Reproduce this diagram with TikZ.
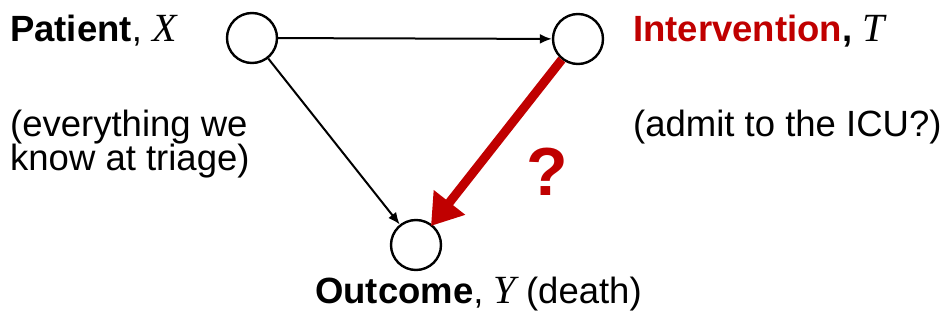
\documentclass[tikz,border=0pt]{standalone}
\usepackage{fontspec}
\setmainfont{Liberation Sans}
\newfontfamily\tms{Liberation Serif}
\usetikzlibrary{arrows.meta}
\definecolor{darkred}{RGB}{192,0,0}
\tikzset{
  var/.style={circle,draw,line width=2.4pt,minimum size=50pt,inner sep=0pt},
  lbl/.style={anchor=base west,inner sep=0pt,font=\fontsize{36.5}{42}\selectfont},
  thin arrow/.style={line width=2pt,-{Latex[length=12pt,width=10pt]}},
  red arrow/.style={line width=9pt,darkred,-{Triangle[length=30pt,width=38pt]},shorten >=-2pt}
}
\newcommand{\mv}[1]{{\tms\itshape\fontsize{40}{42}\selectfont #1}}
\begin{document}
\begin{tikzpicture}[x=1pt,y=-1pt]
\useasboundingbox (0,0) rectangle (946,321);
\node[var] (X) at (252,38) {};
\node[var] (T) at (578,39) {};
\node[var] (Y) at (416,245) {};
\draw[thin arrow] (X) -- (T);
\draw[thin arrow] (X) -- (Y);
\draw[red arrow] (T) -- (Y);
\node[lbl] (lx) at (10,42) {\textbf{Patient}, \mv{X}};
\node[lbl] (lt) at (633,42) {\textbf{\textcolor{darkred}{Intervention}}\textbf{,} \mv{T}};
\node[lbl] (lx2) at (10,136) {(everything we};
\node[lbl] (lx3) at (10,170) {know at triage)};
\node[lbl] (lt2) at (633,136) {(admit to the ICU?)};
\node[lbl] (ly) at (315,303) {\textbf{Outcome}, \mv{Y} (death)};
\node[anchor=base,inner sep=0pt,text=darkred,font=\bfseries\fontsize{68}{70}\selectfont] (q) at (547,195) {?};
\end{tikzpicture}
\end{document}
